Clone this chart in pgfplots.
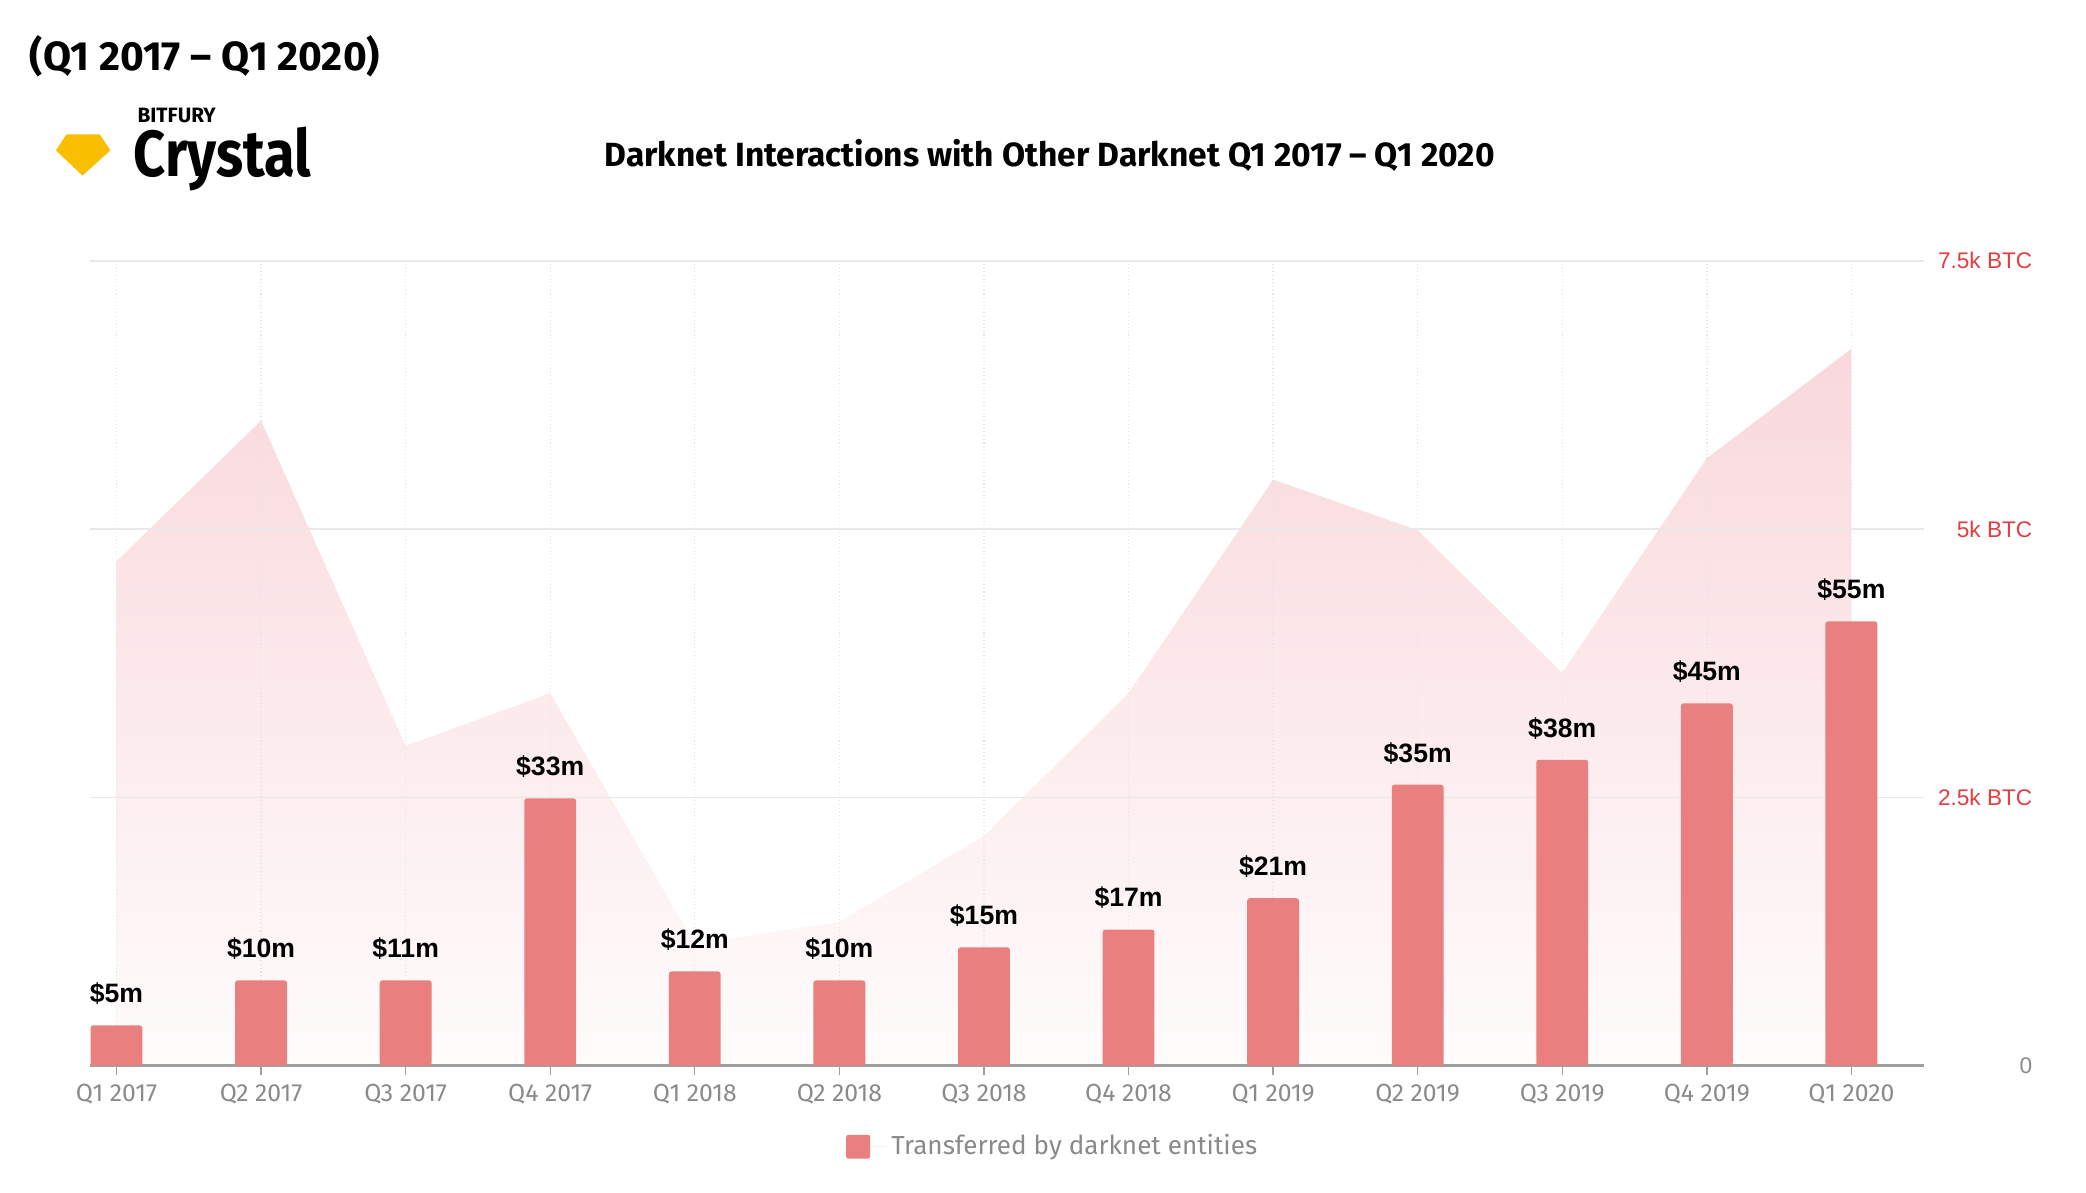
\documentclass[border=0pt]{standalone}
\usepackage{fontspec}
\setmainfont{Fira Sans}
\newfontfamily\condfont{Fira Sans}[FakeStretch=0.86]
\newfontfamily\arialfont{Liberation Sans}
\usepackage{pgfplots}
\pgfplotsset{compat=1.18}
\definecolor{barcol}{RGB}{233,127,127}
\definecolor{areatop}{RGB}{249,216,220}
\definecolor{areabot}{RGB}{255,252,252}
\definecolor{btcred}{RGB}{226,61,64}
\definecolor{tickgray}{RGB}{138,138,138}
\definecolor{gemcol}{RGB}{249,190,0}

\begin{document}
\begin{tikzpicture}
\path[use as bounding box] (0,0) rectangle (784pt,448pt);

% titles and logo
\node[anchor=west, inner sep=0pt, font=\bfseries\fontsize{15.3}{17}\selectfont] at (11pt,427pt) {(Q1 2017 – Q1 2020)};
\fill[gemcol] (25pt,397.5pt) -- (37.5pt,397.5pt) -- (41.5pt,391.5pt) -- (31pt,382pt) -- (21pt,391.5pt) -- cycle;
\node[anchor=west, inner sep=0pt, font=\bfseries\fontsize{7.8}{9}\selectfont] at (51.5pt,404.5pt) {BITFURY};
\node[anchor=base west, inner sep=0pt, font=\condfont\bfseries\fontsize{24.5}{27}\selectfont] at (50pt,381.5pt) {Crystal};
\node[inner sep=0pt, font=\bfseries\fontsize{12.6}{14}\selectfont] at (394.5pt,389.5pt) {Darknet Interactions with Other Darknet Q1 2017 – Q1 2020};

% BTC area, grid and right-hand labels
\begin{axis}[
    at={(34pt,47.5pt)}, anchor=south west,
    scale only axis, width=689pt, height=302.5pt,
    xmin=-0.18, xmax=12.5, ymin=0, ymax=7.5,
    axis on top,
    axis line style={draw=none}, tick style={draw=none},
    xtick={0,...,12}, xticklabels={},
    ytick={0,2.5,5,7.5},
    yticklabels={\textcolor{tickgray}{0},2.5k BTC,5k BTC,7.5k BTC},
    yticklabel pos=right,
    yticklabel style={font=\arialfont\fontsize{8.5}{10}\selectfont, text=btcred, anchor=east, xshift=41pt, inner sep=0pt},
    xmajorgrids, ymajorgrids,
    x grid style={gray!20, densely dotted, line width=0.5pt},
    y grid style={gray!18, line width=0.6pt},
  ]
  \addplot[draw=none, top color=areatop, bottom color=areabot] coordinates {
    (0,4.70) (1,6.01) (2,2.98) (3,3.47) (4,1.13) (5,1.34) (6,2.14)
    (7,3.47) (8,5.46) (9,4.99) (10,3.66) (11,5.66) (12,6.68)} \closedcycle;
\end{axis}

% bars in $m
\begin{axis}[
    at={(34pt,47.5pt)}, anchor=south west,
    scale only axis, width=689pt, height=302.5pt,
    xmin=-0.18, xmax=12.5, ymin=0, ymax=100,
    axis x line*=bottom, axis y line=none,
    x axis line style={draw=gray!75, line width=1pt},
    ytick=\empty,
    xtick={0,...,12},
    xticklabels={Q1 2017,Q2 2017,Q3 2017,Q4 2017,Q1 2018,Q2 2018,Q3 2018,Q4 2018,Q1 2019,Q2 2019,Q3 2019,Q4 2019,Q1 2020},
    xticklabel style={font=\fontsize{9.3}{10}\selectfont, text=tickgray},
    tick align=outside, major tick length=3.5pt,
    xtick style={draw=gray!75, line width=0.5pt},
    clip=false,
    legend style={at={(0.5258,-0.1008)}, anchor=center, draw=none, fill=none,
      font=\fontsize{9.8}{12}\selectfont, text=tickgray},
  ]
  \addplot[ybar, bar width=19.5pt, fill=barcol, draw=none, rounded corners=1pt,
    nodes near coords, point meta=explicit symbolic,
    every node near coord/.append style={font=\arialfont\bfseries\fontsize{10}{12}\selectfont, text=black, anchor=base, yshift=8.5pt, inner sep=0pt},
    legend image code/.code={\fill[barcol, rounded corners=0.8pt] (0pt,-4.5pt) rectangle (9pt,4.5pt); \path (0pt,0pt) -- (15pt,0pt);}
  ] coordinates {
    (0,5.0)[\$5m] (1,10.6)[\$10m] (2,10.6)[\$11m] (3,33.2)[\$33m]
    (4,11.7)[\$12m] (5,10.6)[\$10m] (6,14.7)[\$15m] (7,16.9)[\$17m]
    (8,20.8)[\$21m] (9,34.9)[\$35m] (10,38.0)[\$38m] (11,45.0)[\$45m]
    (12,55.2)[\$55m]};
  \addlegendentry{Transferred by darknet entities}
\end{axis}
\end{tikzpicture}
\end{document}
